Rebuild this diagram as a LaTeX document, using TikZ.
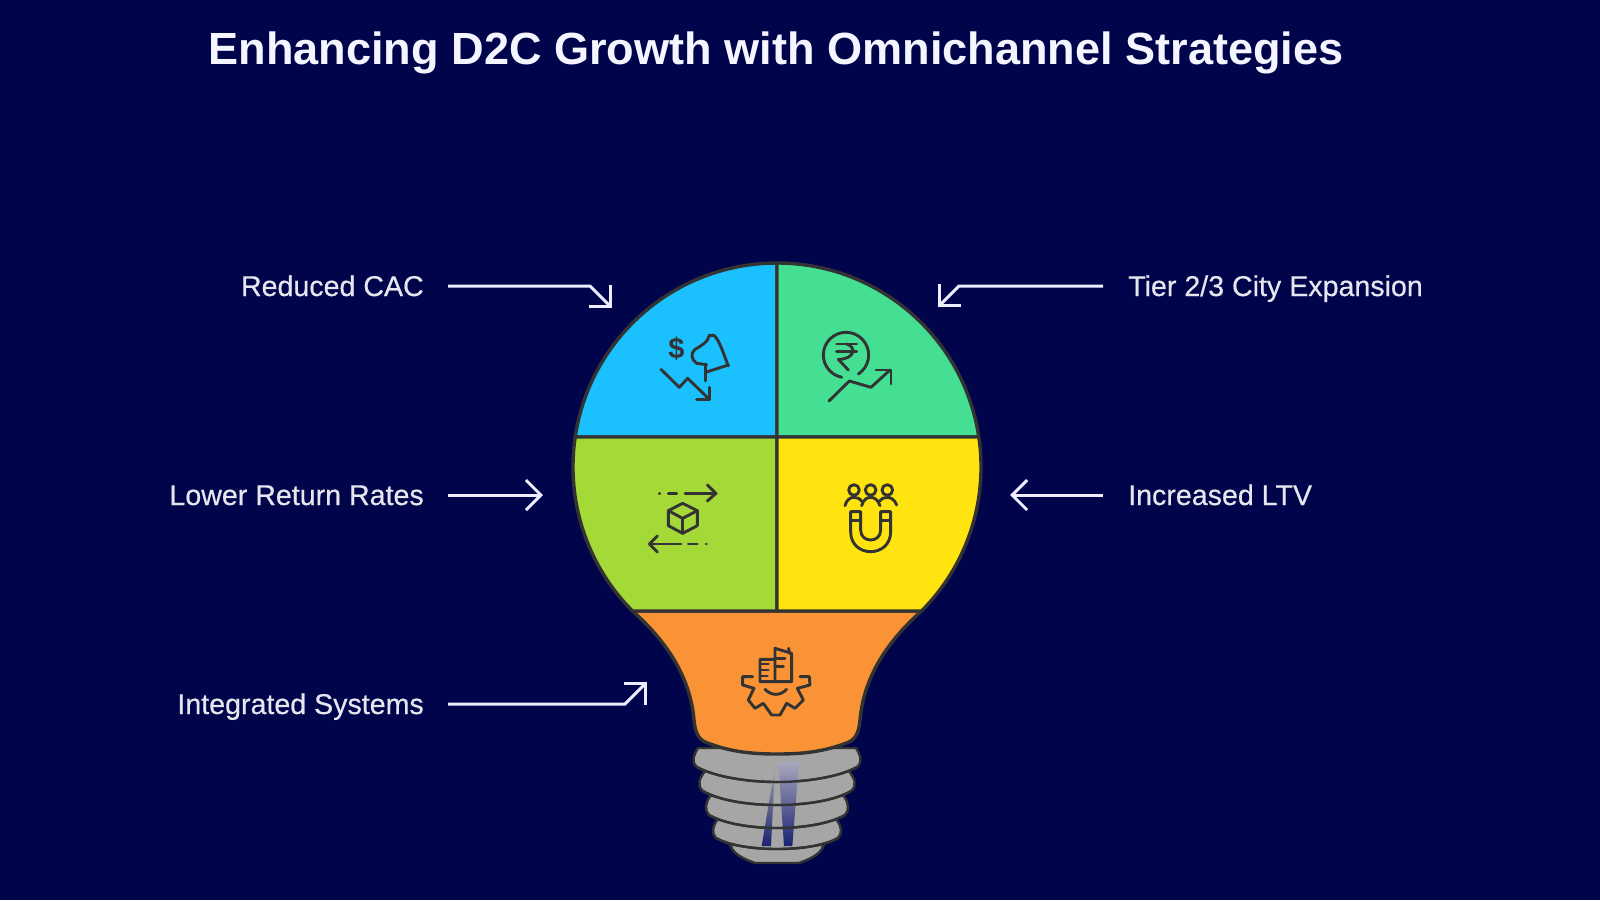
\documentclass[tikz,border=0pt]{standalone}
\usepackage{fontspec}
\setmainfont{Liberation Sans}
\newfontfamily\labfont{Liberation Sans}[RawFeature={embolden=0.5}]
\usetikzlibrary{arrows.meta}
\definecolor{bgc}{HTML}{00044B}
\definecolor{ink}{HTML}{333333}
\definecolor{cblue}{HTML}{1BC1FF}
\definecolor{cgreen}{HTML}{45DF94}
\definecolor{clime}{HTML}{A5D937}
\definecolor{cyel}{HTML}{FFE40F}
\definecolor{corg}{HTML}{F99335}
\definecolor{cgray}{HTML}{A6A6A6}
\definecolor{txt}{HTML}{E6E6EE}
\definecolor{streak}{HTML}{1A2272}
\definecolor{streaktop}{HTML}{A8A8BC}
\tikzset{
  sector/.style={draw=ink,line width=3.4pt,line join=round},
  ring/.style={fill=cgray,draw=ink,line width=2.4pt,line join=round},
  seam/.style={ink,line width=2.4pt},
  icon/.style={draw=ink,line width=2.9pt,line cap=round,line join=round},
  pointer/.style={draw=white!93!blue,line width=3pt,-{Straight Barb[length=15pt,width=30pt,line width=3pt]}},
  lab/.style={text=txt,font=\labfont\fontsize{28.6}{32}\selectfont,inner sep=0pt},
  zoomA/.style={shift={(#1)},x=0.3333pt,y=-0.3333pt},
}
\begin{document}
\begin{tikzpicture}[x=1pt,y=-1pt]
\fill[bgc] (0,0) rectangle (1600,900);
\useasboundingbox (0,0) rectangle (1600,900);
\node[text=white!96!blue,font=\bfseries\fontsize{45.1}{50}\selectfont,inner sep=0pt,anchor=base] (title) at (776,64) {Enhancing D2C Growth with Omnichannel Strategies};

% screw base
\path[ring] (730,845) .. controls (733,852) and (738,857) .. (755,863) -- (799,863) .. controls (816,857) and (821,852) .. (824,845) -- cycle;
\path[ring] (717,820) .. controls (713,826) and (711,833) .. (716,838) .. controls (730,846) and (755,849) .. (777,849) .. controls (799,849) and (824,846) .. (838,838) .. controls (843,833) and (841,826) .. (837,820) -- cycle;
\path[ring] (710,796) .. controls (706,802) and (704,810) .. (709,815) .. controls (725,824) and (752,828) .. (777,828) .. controls (802,828) and (829,824) .. (845,815) .. controls (850,810) and (848,802) .. (844,796) -- cycle;
\path[ring] (705,771) .. controls (700,778) and (696,785) .. (703,791) .. controls (720,801) and (750,805) .. (777,805) .. controls (804,805) and (834,801) .. (851,791) .. controls (858,785) and (854,778) .. (849,771) -- cycle;
\path[ring] (698,748) .. controls (695,753) and (690,761) .. (697,767) .. controls (715,777) and (748,782) .. (777,782) .. controls (806,782) and (839,777) .. (857,767) .. controls (864,761) and (859,753) .. (856,748) -- cycle;
% streak
\begin{scope}[zoomA={680,730}]
\shade[top color=cgray,bottom color=streak] (285,110) -- (245,348) -- (273,348) -- cycle;
\shade[top color=streaktop,bottom color=streak] (295,95) -- (357,95) -- (337,348) -- (312,348) -- cycle;
\end{scope}
% ring seams over the streak
\draw[seam] (716,838) .. controls (730,846) and (755,849) .. (777,849) .. controls (799,849) and (824,846) .. (838,838);
\draw[seam] (709,815) .. controls (725,824) and (752,828) .. (777,828) .. controls (802,828) and (829,824) .. (845,815);
\draw[seam] (703,791) .. controls (720,801) and (750,805) .. (777,805) .. controls (804,805) and (834,801) .. (851,791);
\draw[seam] (697,767) .. controls (715,777) and (748,782) .. (777,782) .. controls (806,782) and (839,777) .. (857,767);

% bulb sectors
\draw[sector,fill=corg] (632.5,611) .. controls (665,640) and (690,675) .. (694,720) .. controls (695,730) and (697,738) .. (705,742) .. controls (730,752) and (752,754) .. (777,754) .. controls (802,754) and (824,752) .. (849,742) .. controls (857,738) and (859,730) .. (860,720) .. controls (864,675) and (889,640) .. (921.5,611) -- cycle;
\draw[sector,fill=cblue] (777,437) -- (575.2,437) arc (188.46:270:204) -- cycle;
\draw[sector,fill=cgreen] (777,437) -- (777,263) arc (270:351.54:204) -- cycle;
\draw[sector,fill=clime] (777,437) -- (575.2,437) arc (188.46:135.1:204) -- (777,611) -- cycle;
\draw[sector,fill=cyel] (777,437) -- (978.8,437) arc (-8.46:44.9:204) -- (777,611) -- cycle;

% icon: megaphone and falling cost
\begin{scope}[zoomA={600,300}]
\node[text=ink,font=\fontsize{29}{29}\selectfont\bfseries,inner sep=0pt] (dollar) at (229,146) {\$};
\draw[icon] (385,198) .. controls (370,160) and (358,120) .. (342,106) -- (328,106) .. controls (326,125) and (300,140) .. (285,148) .. controls (270,160) and (275,180) .. (290,190) -- (320,194);
\draw[icon] (320,216) -- (385,195);
\draw[icon] (316,195) -- (316,243);
\draw[icon] (183,208) -- (238,262) -- (263,235) -- (328,298);
\draw[icon] (290,298) -- (328,298) -- (328,262);
\end{scope}

% icon: rupee and rising line
\begin{scope}[zoomA={790,300}]
\draw[icon] (205,222) arc (57:-259:68);
\draw[icon] (140,132) -- (200,132);
\draw[icon] (140,155) -- (200,155);
\draw[icon] (170,132) .. controls (200,140) and (195,178) .. (145,178) -- (175,210);
\draw[icon] (117,303) -- (178,243) -- (243,262) -- (300,210);
\draw[icon] (258,210) -- (303,210) -- (303,252);
\end{scope}

% icon: returns
\begin{scope}[zoomA={620,460}]
\draw[icon] (118,100) -- (119,100);
\draw[icon] (145,100) -- (170,100);
\draw[icon] (195,100) -- (288,100);
\draw[icon] (262,75) -- (288,100) -- (262,123);
\draw[icon] (112,228) -- (88,252) -- (112,276);
\draw[icon] (88,252) -- (183,252);
\draw[icon] (205,252) -- (232,252);
\draw[icon] (258,252) -- (259,252);
\draw[icon] (188,130) -- (232,152) -- (232,197) -- (188,220) -- (145,197) -- (145,152) -- cycle;
\draw[icon] (145,152) -- (188,175) -- (232,152);
\draw[icon] (188,175) -- (188,220);
\end{scope}

% icon: customer magnet
\begin{scope}[zoomA={620,460}]
\draw[icon] (702,90) circle[radius=16];
\draw[icon] (752,90) circle[radius=16];
\draw[icon] (802,90) circle[radius=16];
\draw[icon] (675,137) .. controls (680,118) and (692,112) .. (702,112) .. controls (712,112) and (722,116) .. (727,125);
\draw[icon] (725,137) .. controls (730,118) and (742,112) .. (752,112) .. controls (762,112) and (774,118) .. (780,137);
\draw[icon] (777,125) .. controls (782,116) and (792,112) .. (802,112) .. controls (812,112) and (824,118) .. (830,135);
\draw[icon] (692,155) -- (722,155) -- (722,210) .. controls (722,250) and (782,250) .. (782,210) -- (782,155) -- (812,155) -- (812,215) .. controls (812,295) and (692,295) .. (692,215) -- cycle;
\draw[icon] (692,182) -- (722,182);
\draw[icon] (782,182) -- (812,182);
\end{scope}

% icon: integrated systems
\begin{scope}[zoomA={680,620}]
\draw[icon] (218,170) -- (188,170) -- (188,195) -- (222,205) -- (205,240) -- (225,265) -- (250,250) -- (275,285) -- (300,285) -- (320,250) -- (345,265) -- (370,240) -- (352,205) -- (390,195) -- (388,170) -- (360,170);
\draw[icon] (255,208) .. controls (275,228) and (300,228) .. (320,208);
\draw[icon] (285,118) -- (240,118) -- (240,185) -- (335,185) -- (335,100) -- (285,85) -- (285,185);
\draw[icon] (326,85) -- (328,100);
\draw[icon] (243,132) -- (265,132);
\draw[icon] (243,150) -- (265,150);
\draw[icon] (243,168) -- (262,168);
\draw[icon] (285,115) -- (315,115);
\draw[icon] (285,140) -- (310,140);
\end{scope}

% labels
\node[lab,anchor=base east] (l1) at (424,296) {Reduced CAC};
\node[lab,anchor=base east] (l2) at (424,505) {Lower Return Rates};
\node[lab,anchor=base east] (l3) at (424,714) {Integrated Systems};
\node[lab,anchor=base west] (r1) at (1128,296) {Tier 2/3 City Expansion};
\node[lab,anchor=base west] (r2) at (1128,505) {Increased LTV};

% connectors
\coordinate (l1s) at (448,286); \coordinate (l1b) at (590,286); \coordinate (l1t) at (612,308);
\coordinate (l2s) at (448,495); \coordinate (l2t) at (543,495);
\coordinate (l3s) at (448,704); \coordinate (l3b) at (625,704); \coordinate (l3t) at (647,682);
\coordinate (r1s) at (1103,286); \coordinate (r1b) at (959,286); \coordinate (r1t) at (938,307);
\coordinate (r2s) at (1103,495); \coordinate (r2t) at (1010,495);
\draw[pointer] (l1s) -- (l1b) -- (l1t);
\draw[pointer] (l2s) -- (l2t);
\draw[pointer] (l3s) -- (l3b) -- (l3t);
\draw[pointer] (r1s) -- (r1b) -- (r1t);
\draw[pointer] (r2s) -- (r2t);
\end{tikzpicture}
\end{document}
